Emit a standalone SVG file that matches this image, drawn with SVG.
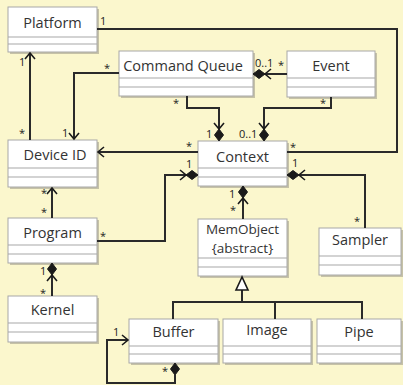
<svg xmlns="http://www.w3.org/2000/svg" width="403" height="385" viewBox="0 0 403 385">
<style>
.bg{fill:#fbf7cd}
.shadow{fill:#9a9888;opacity:.55}
.box{fill:#fff;stroke:#a8a8a8;stroke-width:1}
.sep{stroke:#a8a8a8;stroke-width:1.2}
.name{font-family:"Open Sans","Liberation Sans",sans-serif;font-size:14.5px;fill:#333;text-anchor:middle}
.small{font-size:13.5px}
.lbl{font-family:"Open Sans","Liberation Sans",sans-serif;font-size:11px;fill:#222}
.c{fill:none;stroke:#2a2a2a;stroke-width:2}
.dia{fill:#1a1a1a;stroke:#1a1a1a;stroke-width:1}
.nav{fill:none;stroke:#1a1a1a;stroke-width:1.6}
.gen{fill:#fff;stroke:#1a1a1a;stroke-width:1.6}
</style>
<defs>
<polygon id="dia" class="dia" points="0,0 -6,-4.5 -12,0 -6,4.5"/>
<path id="nav" class="nav" d="M-6,-5 L0,0 L-6,5"/>
<g id="dianav"><use href="#dia"/><path class="nav" d="M-18,-5 L-12,0 L-18,5"/></g>
</defs>
<rect class="bg" x="0" y="0" width="403" height="385"/>

<g id="platform">
<rect class="shadow" x="10" y="9" width="89" height="45"/>
<rect class="box" x="8" y="7" width="89" height="45"/>
<line class="sep" x1="8" y1="37" x2="97" y2="37"/><line class="sep" x1="8" y1="44" x2="97" y2="44"/>
<text class="name" x="52.5" y="28">Platform</text>
</g>
<g id="commandqueue">
<rect class="shadow" x="121" y="53" width="134" height="45"/>
<rect class="box" x="119" y="51" width="134" height="45"/>
<line class="sep" x1="119" y1="78" x2="253" y2="78"/><line class="sep" x1="119" y1="87" x2="253" y2="87"/>
<text class="name" x="183" y="71">Command Queue</text>
</g>
<g id="event">
<rect class="shadow" x="289" y="53" width="88" height="46"/>
<rect class="box" x="287" y="51" width="88" height="46"/>
<line class="sep" x1="287" y1="78" x2="375" y2="78"/><line class="sep" x1="287" y1="87" x2="375" y2="87"/>
<text class="name" x="331" y="71">Event</text>
</g>
<g id="deviceid">
<rect class="shadow" x="10" y="142" width="89" height="47"/>
<rect class="box" x="8" y="140" width="89" height="47"/>
<line class="sep" x1="8" y1="168" x2="97" y2="168"/><line class="sep" x1="8" y1="177" x2="97" y2="177"/>
<text class="name" x="55" y="160">Device ID</text>
</g>
<g id="context">
<rect class="shadow" x="200" y="143" width="89" height="45"/>
<rect class="box" x="198" y="141" width="89" height="45"/>
<line class="sep" x1="198" y1="168" x2="287" y2="168"/><line class="sep" x1="198" y1="177" x2="287" y2="177"/>
<text class="name" x="242.5" y="162">Context</text>
</g>
<g id="program">
<rect class="shadow" x="10" y="220" width="89" height="45"/>
<rect class="box" x="8" y="218" width="89" height="45"/>
<line class="sep" x1="8" y1="245" x2="97" y2="245"/><line class="sep" x1="8" y1="254" x2="97" y2="254"/>
<text class="name" x="52.5" y="238">Program</text>
</g>
<g id="memobject">
<rect class="shadow" x="200" y="221" width="89" height="57"/>
<rect class="box" x="198" y="219" width="89" height="57"/>
<line class="sep" x1="198" y1="258" x2="287" y2="258"/><line class="sep" x1="198" y1="267" x2="287" y2="267"/>
<text class="name small" x="242.5" y="234">MemObject</text>
<text class="name small" x="242.5" y="253">{abstract}</text>
</g>
<g id="sampler">
<rect class="shadow" x="321" y="230" width="82" height="47"/>
<rect class="box" x="319" y="228" width="82" height="47"/>
<line class="sep" x1="319" y1="256" x2="401" y2="256"/><line class="sep" x1="319" y1="265" x2="401" y2="265"/>
<text class="name" x="360" y="245">Sampler</text>
</g>
<g id="kernel">
<rect class="shadow" x="10" y="298" width="89" height="46"/>
<rect class="box" x="8" y="296" width="89" height="46"/>
<line class="sep" x1="8" y1="323" x2="97" y2="323"/><line class="sep" x1="8" y1="332" x2="97" y2="332"/>
<text class="name" x="52.5" y="315">Kernel</text>
</g>
<g id="buffer">
<rect class="shadow" x="131" y="321" width="89" height="44"/>
<rect class="box" x="129" y="319" width="89" height="44"/>
<line class="sep" x1="129" y1="346" x2="218" y2="346"/><line class="sep" x1="129" y1="354" x2="218" y2="354"/>
<text class="name" x="173.5" y="337">Buffer</text>
</g>
<g id="image">
<rect class="shadow" x="225" y="321" width="88" height="44"/>
<rect class="box" x="223" y="319" width="88" height="44"/>
<line class="sep" x1="223" y1="346" x2="311" y2="346"/><line class="sep" x1="223" y1="354" x2="311" y2="354"/>
<text class="name" x="267" y="335">Image</text>
</g>
<g id="pipe">
<rect class="shadow" x="319" y="321" width="84" height="44"/>
<rect class="box" x="317" y="319" width="84" height="44"/>
<line class="sep" x1="317" y1="346" x2="401" y2="346"/><line class="sep" x1="317" y1="354" x2="401" y2="354"/>
<text class="name" x="359" y="337">Pipe</text>
</g>

<g id="connectors">
<path class="c" d="M97,29 H397 V152 H287"/>
<text class="lbl" x="100" y="25">1</text>
<text class="lbl" x="290" y="151">*</text>
<path class="c" d="M30,140 V53"/>
<use href="#nav" transform="translate(30,53) rotate(-90)"/>
<text class="lbl" x="19" y="66">1</text>
<text class="lbl" x="19" y="137">*</text>
<path class="c" d="M119,73 H74 V139"/>
<use href="#nav" transform="translate(74,139) rotate(90)"/>
<text class="lbl" x="104" y="72">*</text>
<text class="lbl" x="62" y="137">1</text>
<path class="c" d="M187,96 V108 H219 V129"/>
<use href="#dianav" transform="translate(219,141) rotate(90)"/>
<text class="lbl" x="173" y="107">*</text>
<text class="lbl" x="206" y="138">1</text>
<path class="c" d="M331,97 V108 H264 V129"/>
<use href="#dianav" transform="translate(264,141) rotate(90)"/>
<text class="lbl" x="320" y="107">*</text>
<text class="lbl" x="239" y="138">0..1</text>
<path class="c" d="M287,74 H265"/>
<use href="#dianav" transform="translate(253,74) rotate(180)"/>
<text class="lbl" x="255" y="67">0..1</text>
<text class="lbl" x="278" y="69">*</text>
<path class="c" d="M198,152 H98"/>
<use href="#nav" transform="translate(98,152) rotate(180)"/>
<text class="lbl" x="186" y="150">*</text>
<path class="c" d="M97,241 H165 V175 H186"/>
<use href="#dianav" transform="translate(198,175)"/>
<text class="lbl" x="100" y="240">*</text>
<text class="lbl" x="186" y="168">1</text>
<path class="c" d="M52,218 V188"/>
<use href="#nav" transform="translate(52,188) rotate(-90)"/>
<text class="lbl" x="41" y="197">*</text>
<text class="lbl" x="41" y="216">*</text>
<path class="c" d="M365,228 V175 H299"/>
<use href="#dianav" transform="translate(287,175) rotate(180)"/>
<text class="lbl" x="292" y="167">1</text>
<text class="lbl" x="354" y="225">*</text>
<path class="c" d="M243,219 V198"/>
<use href="#dianav" transform="translate(243,186) rotate(-90)"/>
<text class="lbl" x="229" y="198">1</text>
<text class="lbl" x="230" y="214">*</text>
<path class="c" d="M52,296 V275"/>
<use href="#dianav" transform="translate(52,263) rotate(-90)"/>
<text class="lbl" x="40" y="275">1</text>
<text class="lbl" x="40" y="297">*</text>
<path class="c" d="M242,290 V302 M173,319 V302 H362 V319 M275,302 V319"/>
<polygon class="gen" points="242,277 236,290 248,290"/>
<path class="c" d="M175,375 V383 H107 V340 H128"/>
<use href="#dia" transform="translate(175,363) rotate(-90)"/>
<use href="#nav" transform="translate(128,340)"/>
<text class="lbl" x="113" y="336">1</text>
<text class="lbl" x="162" y="375">*</text>
</g>
</svg>
